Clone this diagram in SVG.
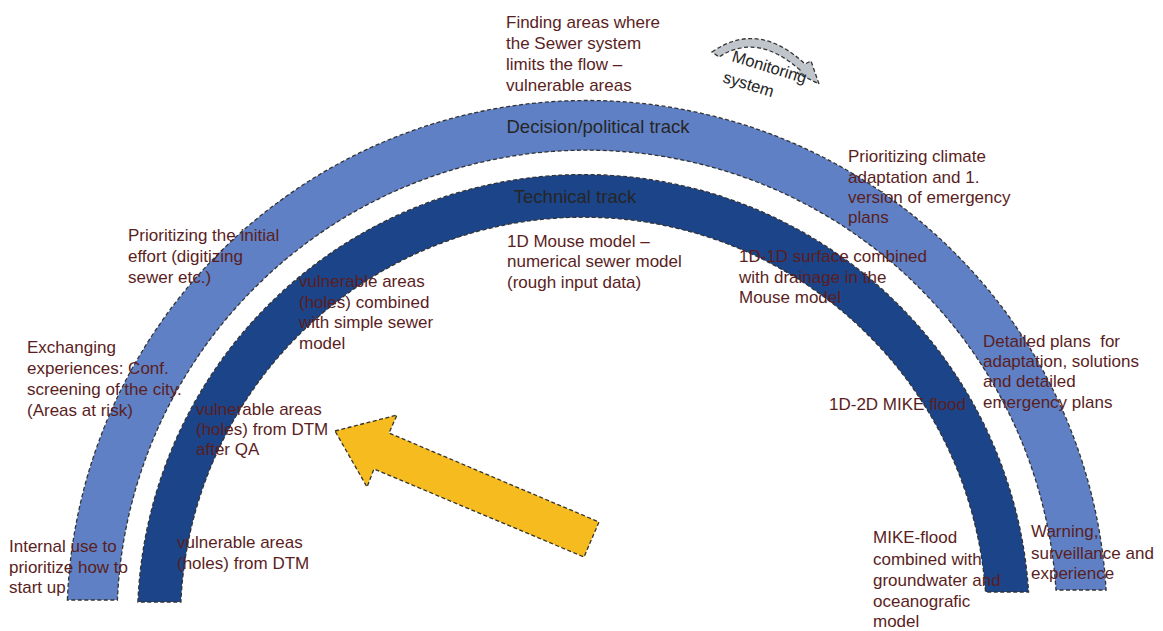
<svg xmlns="http://www.w3.org/2000/svg" width="1163" height="631" viewBox="0 0 1163 631">
<style>
.edge{stroke:#333;stroke-width:1.3;stroke-dasharray:4 2.5;}
.light{fill:#5f80c4;}
.dark{fill:#1c4489;}
.lbl{font-family:"Liberation Sans",Arial,sans-serif;font-size:17px;fill:#5a1e1e;}
.track{font-family:"Liberation Sans",Arial,sans-serif;font-size:18.5px;fill:#262626;}
.mon{font-family:"Liberation Sans",Arial,sans-serif;font-size:16.5px;fill:#262626;}
</style>
<rect width="1163" height="631" fill="#fff"/>
<g id="decision-track">
<path class="light edge" d="M67.4,600 A520,520 0 0 1 1106.1,590 L1056,590 A470,470 0 0 0 117.4,600 Z"/>
<text class="track" x="598" y="133" text-anchor="middle">Decision/political track</text>
</g>
<g id="technical-track">
<path class="dark edge" d="M137.9,602 A446,446 0 0 1 1028.6,592 L985.5,592 A403,403 0 0 0 180.9,602 Z"/>
<text class="track" x="575" y="203" text-anchor="middle">Technical track</text>
</g>
<g id="connectors">
<path class="edge" fill="#f6bb1e" d="M335,431 L397,415 L389,433 L599,522 L584,557 L374,469 L367,487 Z"/>
</g>
<g id="monitoring-system">
<path class="edge" fill="#bfc5cb" stroke-width="1.6" d="M712,52 Q758,20 805,64 L811,61 L819,84 L797,73 L800,70 Q757,32 719,57 Z"/>
<text class="mon" transform="translate(731,61) rotate(17)">Monitoring</text>
<text class="mon" transform="translate(722,82) rotate(17)">system</text>
</g>
<g id="finding-areas">
<text class="lbl" x="506" y="28">Finding areas where</text>
<text class="lbl" x="506" y="49">the Sewer system</text>
<text class="lbl" x="506" y="70">limits the flow –</text>
<text class="lbl" x="506" y="91">vulnerable areas</text>
</g>
<g id="prioritizing-initial">
<text class="lbl" x="128" y="241">Prioritizing the initial</text>
<text class="lbl" x="128" y="262">effort (digitizing</text>
<text class="lbl" x="128" y="283">sewer etc.)</text>
</g>
<g id="vulnerable-combined">
<text class="lbl" x="299" y="287">vulnerable areas</text>
<text class="lbl" x="299" y="308">(holes) combined</text>
<text class="lbl" x="299" y="328">with simple sewer</text>
<text class="lbl" x="299" y="349">model</text>
</g>
<g id="exchanging">
<text class="lbl" x="27" y="353">Exchanging</text>
<text class="lbl" x="27" y="374">experiences: Conf.</text>
<text class="lbl" x="27" y="395">screening of the city.</text>
<text class="lbl" x="27" y="416">(Areas at risk)</text>
</g>
<g id="vulnerable-qa">
<text class="lbl" x="196" y="415">vulnerable areas</text>
<text class="lbl" x="196" y="435">(holes) from DTM</text>
<text class="lbl" x="196" y="455">after QA</text>
</g>
<g id="internal-use">
<text class="lbl" x="9" y="552">Internal use to</text>
<text class="lbl" x="9" y="573">prioritize how to</text>
<text class="lbl" x="9" y="593">start up</text>
</g>
<g id="vulnerable-dtm">
<text class="lbl" x="177" y="548">vulnerable areas</text>
<text class="lbl" x="177" y="569">(holes) from DTM</text>
</g>
<g id="mouse-model">
<text class="lbl" x="507" y="247">1D Mouse model –</text>
<text class="lbl" x="507" y="267">numerical sewer model</text>
<text class="lbl" x="507" y="288">(rough input data)</text>
</g>
<g id="surface-1d1d">
<text class="lbl" x="739" y="262">1D-1D surface combined</text>
<text class="lbl" x="739" y="283">with drainage in the</text>
<text class="lbl" x="739" y="303">Mouse model</text>
</g>
<g id="prioritizing-climate">
<text class="lbl" x="848" y="162">Prioritizing climate</text>
<text class="lbl" x="848" y="183">adaptation and 1.</text>
<text class="lbl" x="848" y="203">version of emergency</text>
<text class="lbl" x="848" y="223">plans</text>
</g>
<g id="detailed-plans">
<text class="lbl" x="983" y="347" xml:space="preserve">Detailed plans  for</text>
<text class="lbl" x="983" y="367">adaptation, solutions</text>
<text class="lbl" x="983" y="387">and detailed</text>
<text class="lbl" x="983" y="408">emergency plans</text>
</g>
<g id="mike-2d">
<text class="lbl" x="829" y="410">1D-2D MIKE flood</text>
</g>
<g id="mike-groundwater">
<text class="lbl" x="873" y="543">MIKE-flood</text>
<text class="lbl" x="873" y="565">combined with</text>
<text class="lbl" x="873" y="586">groundwater and</text>
<text class="lbl" x="873" y="607">oceanografic</text>
<text class="lbl" x="873" y="627">model</text>
</g>
<g id="warning">
<text class="lbl" x="1031" y="537">Warning,</text>
<text class="lbl" x="1031" y="559">surveillance and</text>
<text class="lbl" x="1031" y="579">experience</text>
</g>
</svg>
